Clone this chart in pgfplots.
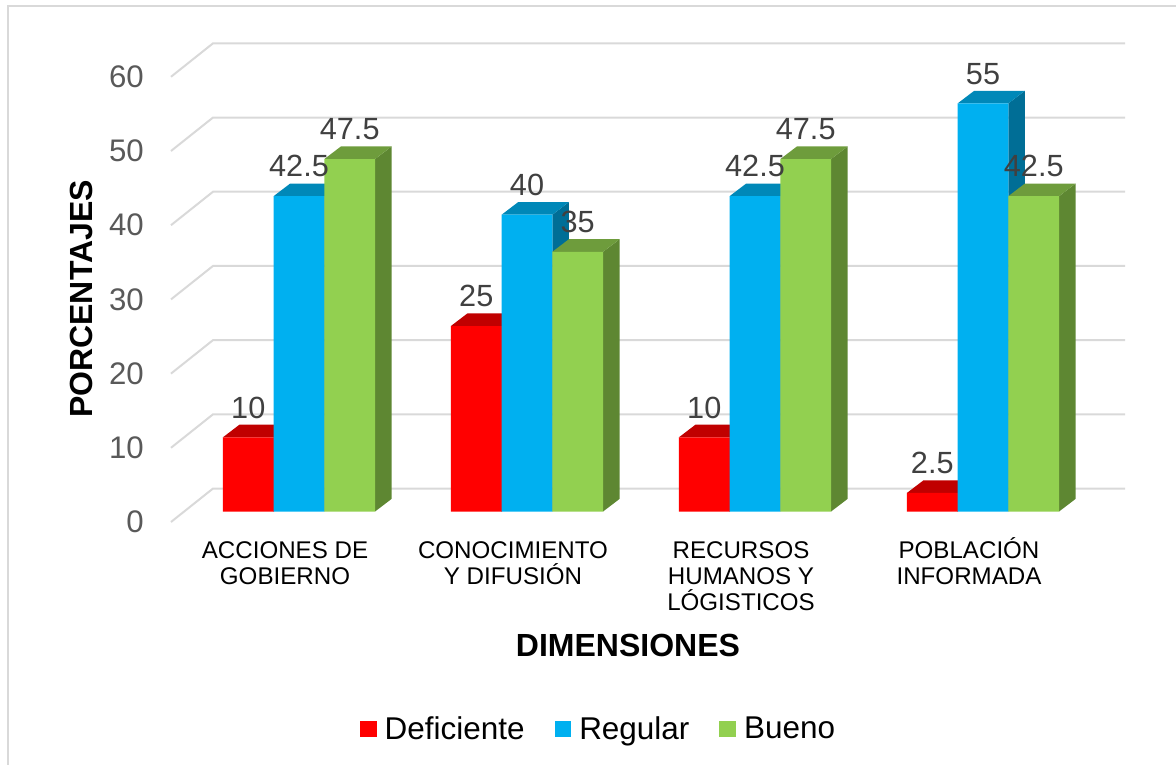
\documentclass[border=0pt]{standalone}
\usepackage{fontspec}
\setmainfont{Liberation Sans}
\usepackage{pgfplots}
\pgfplotsset{compat=1.18}
\definecolor{cRed}{HTML}{FF0000}
\definecolor{cRedTop}{HTML}{C00000}
\definecolor{cRedSide}{HTML}{A50000}
\definecolor{cBlue}{HTML}{00B0F0}
\definecolor{cBlueTop}{HTML}{0088B8}
\definecolor{cBlueSide}{HTML}{006E96}
\definecolor{cGreen}{HTML}{92D050}
\definecolor{cGreenTop}{HTML}{6E9C3C}
\definecolor{cGreenSide}{HTML}{5E8732}
\definecolor{gridc}{HTML}{D9D9D9}
\definecolor{tickc}{HTML}{595959}
\definecolor{labc}{HTML}{404040}

% top and right faces of a 3D bar: #1 x centre, #2 value, #3 top colour, #4 side colour
\newcommand{\barprism}[4]{%
 \pgfmathsetmacro{\xl}{#1-0.1112}%
 \pgfmathsetmacro{\xr}{#1+0.1112}%
 \pgfmathsetmacro{\xlb}{#1-0.1112+0.0725}%
 \pgfmathsetmacro{\xrb}{#1+0.1112+0.0725}%
 \pgfmathsetmacro{\yt}{#2+1.70}%
 \edef\tmp{%
  \noexpand\addplot[forget plot, fill=#4, draw=none] coordinates {(\xr,0) (\xrb,1.70) (\xrb,\yt) (\xr,#2)};%
  \noexpand\addplot[forget plot, fill=#3, draw=none] coordinates {(\xl,#2) (\xr,#2) (\xrb,\yt) (\xlb,\yt)};%
 }\tmp}

\begin{document}
\begin{tikzpicture}
\draw[gridc, line width=1.5pt] (5.8pt,-10pt) -- (5.8pt,568.7pt) -- (900pt,568.7pt);
\begin{axis}[
  at={(138.75pt,189.375pt)}, anchor=south west,
  scale only axis, width=684pt, height=333.9pt,
  xmin=-0.5, xmax=3.5, ymin=0, ymax=60,
  clip=false,
  axis line style={draw=none},
  major tick length=0pt,
  ytick={0,10,20,30,40,50,60},
  xtick={0,1,2,3},
  xticklabels={{\vphantom{Ó}ACCIONES DE\\GOBIERNO},{\vphantom{Ó}CONOCIMIENTO\\Y DIFUSIÓN},{\vphantom{Ó}RECURSOS\\HUMANOS Y\\LÓGISTICOS},{\vphantom{Ó}POBLACIÓN\\INFORMADA}},
  /pgf/number format/assume math mode=true,
  yticklabel style={anchor=east, inner sep=0pt, xshift=-30.75pt, yshift=-7.875pt, font=\fontsize{23.4pt}{28pt}\selectfont, text=tickc},
  xticklabel style={anchor=north, inner sep=0pt, align=center, xshift=-10.5pt, yshift=-19.2pt, font=\fontsize{18.1pt}{19.6pt}\selectfont, text=black},
  xlabel={DIMENSIONES},
  ylabel={PORCENTAJES},
  x label style={at={(axis description cs:0.4857,-0.326)}, anchor=base, inner sep=0pt, font=\bfseries\fontsize{24pt}{28pt}\selectfont},
  y label style={at={(axis description cs:-0.1009,0.4773)}, anchor=base, rotate=0, inner sep=0pt, font=\bfseries\fontsize{24pt}{28pt}\selectfont},
  every node near coord/.append style={inner sep=0pt, yshift=14pt, font=\fontsize{23pt}{27pt}\selectfont, text=labc},
  legend columns=-1,
  legend style={at={(axis description cs:0.1919,-0.4885)}, anchor=west, draw=none, fill=none, inner sep=0pt, outer sep=0pt,
    font=\fontsize{23.6pt}{28pt}\selectfont, nodes={inner sep=0pt},
    /tikz/every odd column/.append style={column sep=6pt},
    /tikz/every even column/.append style={column sep=22.5pt}},
]
% 3D gridlines: side wall diagonal + back wall
\addplot[forget plot, gridc, line width=1.5pt] coordinates {(-0.5615,-1.415) (-0.377,3.10) (3.623,3.10)};
\addplot[forget plot, gridc, line width=1.5pt] coordinates {(-0.5615,8.585) (-0.377,13.10) (3.623,13.10)};
\addplot[forget plot, gridc, line width=1.5pt] coordinates {(-0.5615,18.585) (-0.377,23.10) (3.623,23.10)};
\addplot[forget plot, gridc, line width=1.5pt] coordinates {(-0.5615,28.585) (-0.377,33.10) (3.623,33.10)};
\addplot[forget plot, gridc, line width=1.5pt] coordinates {(-0.5615,38.585) (-0.377,43.10) (3.623,43.10)};
\addplot[forget plot, gridc, line width=1.5pt] coordinates {(-0.5615,48.585) (-0.377,53.10) (3.623,53.10)};
\addplot[forget plot, gridc, line width=1.5pt] coordinates {(-0.5615,58.585) (-0.377,63.10) (3.623,63.10)};

% Deficiente
\barprism{-0.2225}{10}{cRedTop}{cRedSide}
\barprism{0.7775}{25}{cRedTop}{cRedSide}
\barprism{1.7775}{10}{cRedTop}{cRedSide}
\barprism{2.7775}{2.5}{cRedTop}{cRedSide}
\addplot[ybar, bar width=0.2235, bar shift=0pt, fill=cRed, draw=none, nodes near coords,
  legend image code/.code={\fill[cRed] (0pt,-6.25pt) rectangle (12.5pt,6.25pt);}]
  coordinates {(-0.2225,10) (0.7775,25) (1.7775,10) (2.7775,2.5)};
\addlegendentry{Deficiente}
% Regular
\barprism{0}{42.5}{cBlueTop}{cBlueSide}
\barprism{1}{40}{cBlueTop}{cBlueSide}
\barprism{2}{42.5}{cBlueTop}{cBlueSide}
\barprism{3}{55}{cBlueTop}{cBlueSide}
\addplot[ybar, bar width=0.2235, bar shift=0pt, fill=cBlue, draw=none, nodes near coords,
  legend image code/.code={\fill[cBlue] (0pt,-6.25pt) rectangle (12.5pt,6.25pt);}]
  coordinates {(0,42.5) (1,40) (2,42.5) (3,55)};
\addlegendentry{Regular}
% Bueno
\barprism{0.2225}{47.5}{cGreenTop}{cGreenSide}
\barprism{1.2225}{35}{cGreenTop}{cGreenSide}
\barprism{2.2225}{47.5}{cGreenTop}{cGreenSide}
\barprism{3.2225}{42.5}{cGreenTop}{cGreenSide}
\addplot[ybar, bar width=0.2235, bar shift=0pt, fill=cGreen, draw=none, nodes near coords,
  legend image code/.code={\fill[cGreen] (0pt,-6.25pt) rectangle (12.5pt,6.25pt);}]
  coordinates {(0.2225,47.5) (1.2225,35) (2.2225,47.5) (3.2225,42.5)};
\addlegendentry{Bueno}
\end{axis}
\pgfresetboundingbox
\useasboundingbox (0,0) rectangle (882pt,573pt);
\end{tikzpicture}
\end{document}
